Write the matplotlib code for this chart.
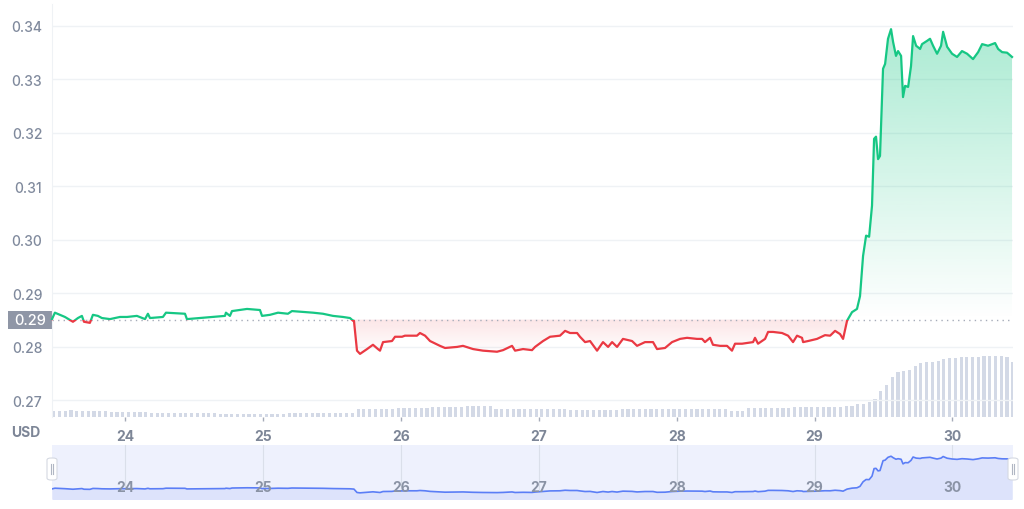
import numpy as np
import matplotlib.pyplot as plt
from matplotlib.patches import Rectangle, FancyBboxPatch
from matplotlib.colors import to_rgb

plt.rcParams['font.family'] = ['Inter', 'DejaVu Sans']

# price trace (day of month, USD)
days = [23.467, 23.488, 23.525, 23.561, 23.619, 23.655, 23.684, 23.699, 23.742, 23.764,
        23.800, 23.829, 23.888, 23.960, 24.011, 24.083, 24.142, 24.163, 24.178, 24.272,
        24.294, 24.432, 24.446, 24.541, 24.635, 24.722, 24.729, 24.758, 24.773, 24.882,
        24.976, 24.991, 25.049, 25.107, 25.179, 25.208, 25.317, 25.361, 25.433, 25.506,
        25.578, 25.629, 25.651, 25.658, 25.680, 25.702, 25.753, 25.796, 25.832, 25.847,
        25.869, 25.934, 25.956, 26.007, 26.028, 26.115, 26.137, 26.174, 26.210, 26.282,
        26.319, 26.406, 26.449, 26.522, 26.594, 26.696, 26.740, 26.805, 26.827, 26.885,
        26.950, 26.972, 27.030, 27.081, 27.153, 27.190, 27.226, 27.277, 27.298, 27.335,
        27.371, 27.422, 27.465, 27.502, 27.531, 27.567, 27.610, 27.676, 27.712, 27.770,
        27.828, 27.857, 27.915, 27.966, 28.024, 28.075, 28.147, 28.184, 28.205, 28.242,
        28.263, 28.314, 28.365, 28.401, 28.423, 28.474, 28.554, 28.568, 28.590, 28.641,
        28.663, 28.699, 28.764, 28.808, 28.844, 28.873, 28.909, 28.917, 28.953, 29.018,
        29.076, 29.113, 29.149, 29.185, 29.207, 29.236, 29.272, 29.308, 29.330, 29.352,
        29.374, 29.396, 29.417, 29.432, 29.446, 29.461, 29.475, 29.497, 29.512, 29.533,
        29.555, 29.570, 29.591, 29.606, 29.628, 29.642, 29.657, 29.679, 29.700, 29.715,
        29.737, 29.766, 29.780, 29.816, 29.838, 29.860, 29.889, 29.918, 29.933, 29.962,
        29.998, 30.034, 30.070, 30.107, 30.150, 30.187, 30.216, 30.259, 30.310, 30.332,
        30.361, 30.397, 30.433]
price = [0.2852, 0.2864, 0.2860, 0.2856, 0.2847, 0.2854, 0.2858, 0.2847, 0.2845, 0.2860,
         0.2858, 0.2854, 0.2852, 0.2856, 0.2856, 0.2858, 0.2852, 0.2862, 0.2854, 0.2856,
         0.2864, 0.2862, 0.2852, 0.2854, 0.2856, 0.2858, 0.2864, 0.2858, 0.2867, 0.2871,
         0.2869, 0.2858, 0.2860, 0.2864, 0.2862, 0.2867, 0.2865, 0.2864, 0.2862, 0.2858,
         0.2856, 0.2854, 0.2849, 0.2849, 0.2793, 0.2787, 0.2796, 0.2804, 0.2796, 0.2793,
         0.2809, 0.2811, 0.2819, 0.2819, 0.2821, 0.2821, 0.2826, 0.2821, 0.2811, 0.2802,
         0.2798, 0.2800, 0.2802, 0.2796, 0.2793, 0.2791, 0.2794, 0.2802, 0.2793, 0.2796,
         0.2794, 0.2800, 0.2811, 0.2819, 0.2821, 0.2830, 0.2826, 0.2826, 0.2819, 0.2809,
         0.2811, 0.2793, 0.2809, 0.2800, 0.2809, 0.2800, 0.2815, 0.2811, 0.2802, 0.2809,
         0.2809, 0.2796, 0.2798, 0.2809, 0.2815, 0.2817, 0.2815, 0.2815, 0.2809, 0.2817,
         0.2804, 0.2802, 0.2802, 0.2793, 0.2806, 0.2806, 0.2809, 0.2817, 0.2806, 0.2815,
         0.2828, 0.2828, 0.2826, 0.2821, 0.2809, 0.2821, 0.2817, 0.2809, 0.2811, 0.2815,
         0.2822, 0.2821, 0.2830, 0.2824, 0.2815, 0.2849, 0.2865, 0.2871, 0.2895, 0.2970,
         0.3008, 0.3006, 0.3064, 0.3189, 0.3193, 0.3151, 0.3157, 0.3320, 0.3329, 0.3376,
         0.3394, 0.3370, 0.3344, 0.3353, 0.3344, 0.3267, 0.3288, 0.3286, 0.3325, 0.3381,
         0.3363, 0.3357, 0.3366, 0.3372, 0.3376, 0.3363, 0.3348, 0.3363, 0.3389, 0.3361,
         0.3348, 0.3342, 0.3353, 0.3348, 0.3338, 0.3351, 0.3366, 0.3363, 0.3368, 0.3357,
         0.3351, 0.3350, 0.3342]
ref_price = 0.2851

# hourly volume (relative units), first bar at day 23.48
vol_start = 23.48
volume = [5.7, 5.7, 5.7, 7, 6, 6, 6, 6, 6, 6,
          5, 5, 5, 5, 5, 5, 5, 4, 4, 4,
          4, 4, 4, 4, 4, 4, 4, 4, 4.3, 3,
          3, 3, 3, 3, 3, 3, 3, 3, 3, 3,
          3, 4, 4, 4, 4, 4, 4, 4, 4, 4,
          4, 4, 4, 7.7, 8.3, 8.3, 8.3, 8.3, 8.3, 8.3,
          9.3, 9.3, 9.3, 9.3, 9.3, 9.3, 10, 10, 10, 10,
          10, 10, 11, 11, 11, 11, 11, 8, 8, 8,
          8, 8, 8, 8, 8.3, 8.3, 8.3, 8.3, 8.3, 8.3,
          7, 7, 7, 7, 7, 7, 7, 7, 7, 8,
          8, 8, 8, 8, 8, 8, 8, 8, 8, 7.7,
          7.7, 7.7, 7.7, 7.7, 7.7, 7.7, 7.7, 7.7, 6.3, 6.3,
          6.3, 9.3, 9.3, 9.3, 9.3, 9.3, 9.3, 9.3, 9.3, 10.3,
          10.3, 10.3, 10.3, 10.3, 10.3, 10.3, 10.3, 10.3, 11.3, 11.3,
          13, 13, 15, 18, 26, 32, 40, 45, 46, 47,
          51, 54, 55, 55.5, 56, 58, 59, 59.5, 60, 60,
          60, 60.5, 61, 61, 61, 61, 60, 55]

y_ticks = [0.27, 0.28, 0.29, 0.30, 0.31, 0.32, 0.33, 0.34]
x_ticks = [24, 25, 26, 27, 28, 29, 30]
price_label = '0.29'

green = '#16c784'
red = '#ea3943'
xmin, xmax = 23.467, 30.44

fig = plt.figure(figsize=(10.24, 5.10), dpi=100)
ax = fig.add_axes([52/1024, 92/510, 961/1024, 413/510])

# volume bars on a hidden twin axis
axv = ax.twinx()
vol_days = vol_start + np.arange(len(volume)) / 24
axv.bar(vol_days, volume, width=0.55/24, color='#d3d9e6', linewidth=0)
axv.set_ylim(0, 413)
axv.axis('off')
ax.set_zorder(axv.get_zorder() + 1)
ax.patch.set_visible(False)

days_a = np.array(days)
price_a = np.array(price)

# gradient fills
g = np.zeros((256, 1, 4))
g[..., :3] = to_rgb(green)
g[..., 3] = np.linspace(0.36, 0.0, 256)[:, None]
im = ax.imshow(g, extent=[xmin, xmax, ref_price, 0.34], aspect='auto', zorder=1)
poly = ax.fill_between(days_a, np.maximum(price_a, ref_price), ref_price, color='none')
im.set_clip_path(poly.get_paths()[0], transform=ax.transData)

r = np.zeros((256, 1, 4))
r[..., :3] = to_rgb(red)
r[..., 3] = np.linspace(0.13, 0.0, 256)[:, None]
im2 = ax.imshow(r, extent=[xmin, xmax, 0.2786, ref_price], aspect='auto', zorder=1)
poly2 = ax.fill_between(days_a, np.minimum(price_a, ref_price), ref_price, color='none')
im2.set_clip_path(poly2.get_paths()[0], transform=ax.transData)

# price line, green above the reference price and red below
for col, y0, h in [(green, ref_price, 1.0), (red, 0.2, ref_price - 0.2)]:
    ln, = ax.plot(days_a, price_a, color=col, lw=1.6, zorder=3, solid_joinstyle='round')
    ln.set_clip_path(Rectangle((20, y0), 20, h, transform=ax.transData))

ax.axhline(ref_price, color='#a6acb9', lw=1, ls=(0, (1, 3)), zorder=2)

ax.set_xlim(xmin, xmax)
ax.set_ylim(0.2669, 0.3441)
ax.set_yticks(y_ticks)
ax.set_yticklabels([f'{v:.2f}' for v in y_ticks])
ax.set_xticks(x_ticks)
ax.grid(axis='y', color='#eff2f5', lw=1)
ax.set_axisbelow(True)
for s in ['top', 'right', 'bottom']:
    ax.spines[s].set_visible(False)
ax.spines['left'].set_color('#eff2f5')
ax.tick_params(axis='y', length=0, pad=7, labelsize=10, labelcolor='#808a9d')
ax.tick_params(axis='x', length=3, width=1, color='#a6acb9', pad=6, labelsize=10,
               labelcolor='#7d8697')
for t in ax.get_yticklabels():
    t.set_fontweight('medium')
for t in ax.get_xticklabels():
    t.set_fontweight('bold')

fig.text(26/1024, 1 - 433/510, 'USD', ha='center', va='center', fontsize=10,
         fontweight='bold', color='#7d8697')

# current price tag
yf = fig.transFigure.inverted().transform(ax.transData.transform((xmin, ref_price)))[1]
fig.add_artist(Rectangle((8/1024, yf - 9/510), 44/1024, 18/510, transform=fig.transFigure,
                         facecolor='#8f96a6', edgecolor='none'))
fig.text(30/1024, yf, price_label, ha='center', va='center', fontsize=10.5, color='white',
         fontweight='medium')

# navigator
nav = fig.add_axes([52/1024, 10/510, 961/1024, 54/510])
nav.set_facecolor('#eef1fd')
nav.fill_between(days_a, price_a, 0.2, color='#dde3fb', lw=0)
nav.plot(days_a, price_a, color='#5b7ef6', lw=1.2)
nav.set_xlim(xmin, xmax)
nav.set_ylim(0.2685, 0.358)
for t in x_ticks:
    nav.axvline(t, color='#dadfea', lw=0.8, zorder=0.5)
    nav.text(t, 0.22, str(t), transform=nav.get_xaxis_transform(), ha='center', va='center',
             fontsize=10, fontweight='bold', color='#8a93a5')
nav.set_xticks([])
nav.set_yticks([])
for s in nav.spines.values():
    s.set_visible(False)

for hx in [52, 1013]:
    fig.add_artist(FancyBboxPatch(((hx - 5)/1024, (1 - 481/510)), 10/1024, 22/510,
                                  boxstyle='round,pad=0,rounding_size=0.004',
                                  transform=fig.transFigure, facecolor='white',
                                  edgecolor='#d5d9e2', lw=0.8))
    for dx in [-1.2, 1.2]:
        fig.add_artist(plt.Line2D([(hx + dx)/1024] * 2, [1 - 475/510, 1 - 465/510],
                                  transform=fig.transFigure, color='#b0b6c3', lw=0.8))

fig.savefig('out.png', dpi=100)
